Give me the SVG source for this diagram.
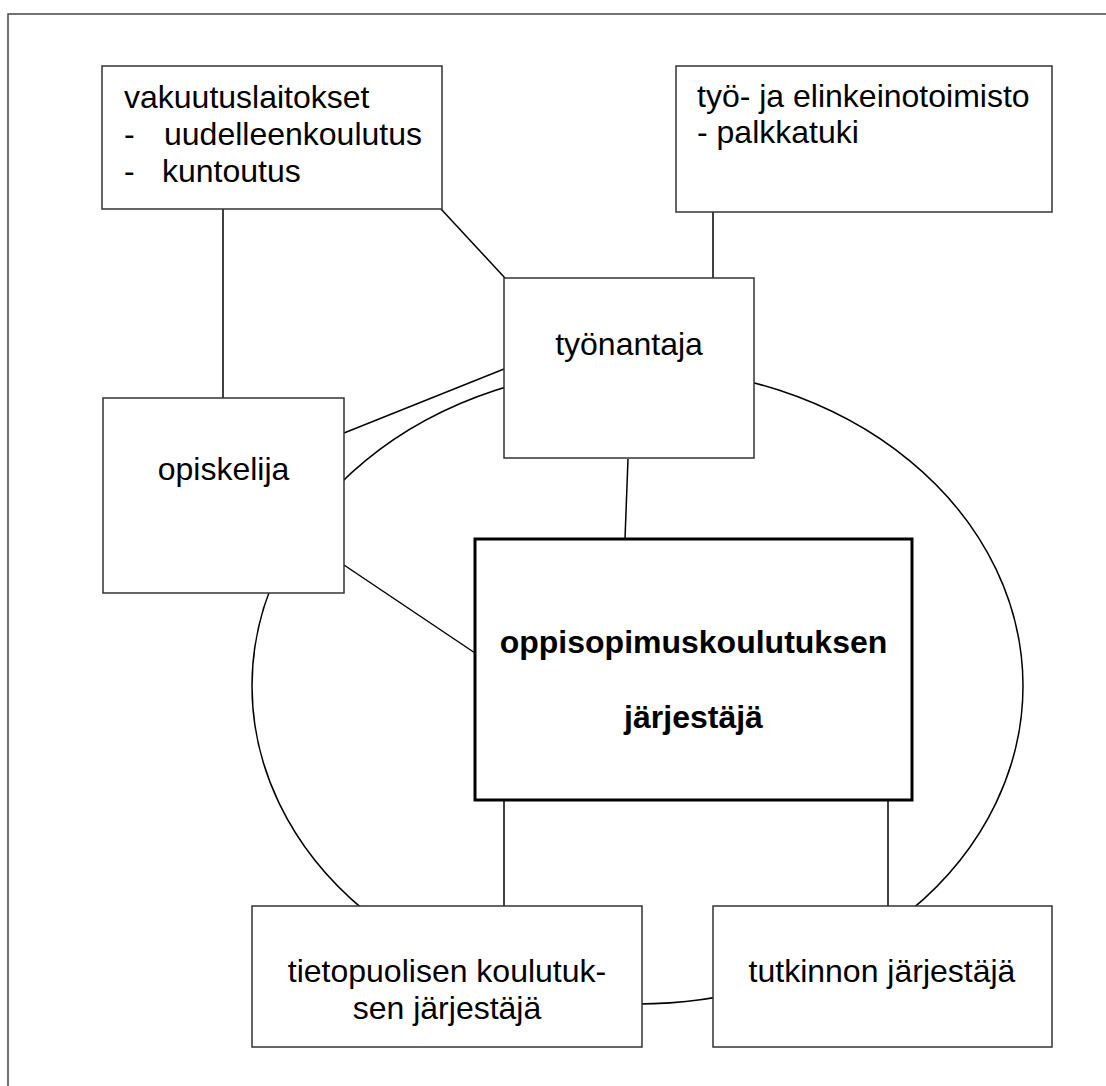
<svg xmlns="http://www.w3.org/2000/svg" width="1106" height="1086" viewBox="0 0 1106 1086">
<style>
.frame{fill:none;stroke:#444;stroke-width:1.5}
.box{fill:#fff;stroke:#333;stroke-width:1.5}
.main{fill:#fff;stroke:#000;stroke-width:3}
.conn{fill:none;stroke:#000;stroke-width:1.5}
text{font-family:"Liberation Sans",Arial,sans-serif;font-size:32px;fill:#000}
.c{text-anchor:middle}
.b{font-weight:bold}
</style>
<rect width="1106" height="1086" fill="#fff"/>
<rect class="frame" x="8" y="14" width="1200" height="1200"/>
<g id="connectors">
<ellipse class="conn" cx="637.5" cy="686" rx="385.5" ry="318"/>
<line class="conn" x1="223" y1="209" x2="223" y2="398"/>
<line class="conn" x1="441" y1="209" x2="505" y2="278"/>
<line class="conn" x1="713" y1="212" x2="713" y2="278"/>
<line class="conn" x1="344" y1="433" x2="504" y2="369"/>
<line class="conn" x1="628" y1="459" x2="625" y2="539"/>
<line class="conn" x1="344" y1="565" x2="475" y2="653"/>
<line class="conn" x1="504" y1="800" x2="504" y2="906"/>
<line class="conn" x1="888" y1="800" x2="888" y2="906"/>
</g>
<g id="vakuutuslaitokset">
<rect class="box" x="102" y="66" width="340" height="143"/>
<text x="124" y="108">vakuutuslaitokset</text>
<text x="124" y="145">-</text><text x="164" y="145">uudelleenkoulutus</text>
<text x="124" y="182">-</text><text x="162" y="182">kuntoutus</text>
</g>
<g id="te-toimisto">
<rect class="box" x="676" y="66" width="376" height="146"/>
<text x="697" y="107">työ- ja elinkeinotoimisto</text>
<text x="697" y="143">- palkkatuki</text>
</g>
<g id="tyonantaja">
<rect class="box" x="504" y="278" width="250" height="180"/>
<text class="c" x="629" y="355">työnantaja</text>
</g>
<g id="opiskelija">
<rect class="box" x="103" y="398" width="241" height="195"/>
<text class="c" x="223.5" y="480">opiskelija</text>
</g>
<g id="jarjestaja">
<rect class="main" x="475" y="539" width="437" height="261"/>
<text class="c b" x="693.5" y="653">oppisopimuskoulutuksen</text>
<text class="c b" x="693.5" y="728">järjestäjä</text>
</g>
<g id="tietopuolinen">
<rect class="box" x="252" y="906" width="390" height="141"/>
<text class="c" x="447" y="982">tietopuolisen koulutuk-</text>
<text class="c" x="447" y="1019">sen järjestäjä</text>
</g>
<g id="tutkinto">
<rect class="box" x="713" y="906" width="339" height="141"/>
<text class="c" x="882" y="982">tutkinnon järjestäjä</text>
</g>
</svg>
